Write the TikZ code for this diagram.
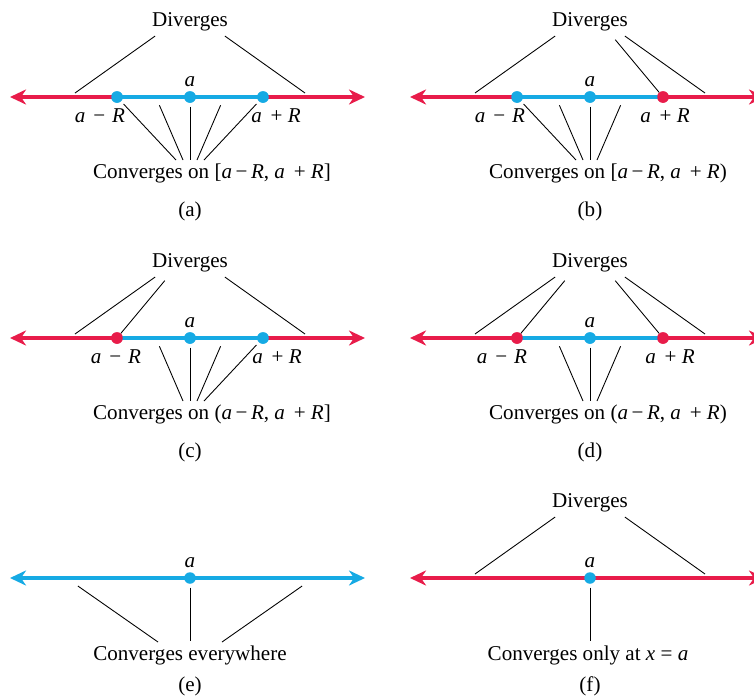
\documentclass[tikz,border=0pt]{standalone}
\usepackage{fontspec}
\setmainfont{Liberation Serif}
\usepackage{xcolor}
\usetikzlibrary{arrows.meta}

\definecolor{divred}{RGB}{232,28,74}
\definecolor{convblue}{RGB}{22,170,228}

\newcommand{\mns}{\hspace{4.5pt}−\hspace{4pt}}
\newcommand{\pls}{\hspace{5pt}+\hspace{3pt}}

\tikzset{
  axis/.style={line width=2.8pt},
  dot/.style={circle,inner sep=0pt,minimum size=0.23cm},
  lead/.style={line width=0.5pt,shorten <=2pt},
}

\begin{document}
\begin{tikzpicture}[x={(0.02cm,0cm)}, y={(0cm,-0.02cm)},
    >={Stealth[length=0.32cm,width=0.3cm,inset=0.1cm]},
    font=\fontsize{12}{14}\selectfont]
  \useasboundingbox (0,0) rectangle (754,697);

  % ---------- (a) ----------
  \begin{scope}
  % Nodes
  \node (divA) at (190,22) {Diverges};
  \node (aA) at (190,82) {\textit{a}};
  \node (amA) at (100,116) {\textit{a}\mns\textit{R}};
  \node (apA) at (276,116) {\textit{a}\pls\textit{R}};
  \node (convA) at (212,173) {Converges on [\textit{a}\,−\,\textit{R}, \textit{a}\pls\textit{R}]};
  \node (capA) at (190,211) {(a)};
  \coordinate (lA) at (10,97);
  \coordinate (rA) at (365,97);
  \node[dot,fill=convblue] (pLA) at (117,97) {};
  \node[dot,fill=convblue] (pAA) at (190,97) {};
  \node[dot,fill=convblue] (pRA) at (263,97) {};
  % Axis
  \draw[axis,divred,<-] (lA) -- (pLA.center);
  \draw[axis,convblue] (pLA.center) -- (pRA.center);
  \draw[axis,divred,->] (pRA.center) -- (rA);
  \node[dot,fill=convblue] at (pLA) {};
  \node[dot,fill=convblue] at (pAA) {};
  \node[dot,fill=convblue] at (pRA) {};
  % Edges
  \draw[lead] (158,34) -- (75,93);
  \draw[lead] (222,34) -- (305,93);
  \draw[lead] (pLA) -- (176,160);
  \draw[lead] (158,102) -- (183,160);
  \draw[lead] (pAA) -- (190,160);
  \draw[lead] (222,102) -- (197,160);
  \draw[lead] (pRA) -- (204,160);
  \end{scope}

  % ---------- (b) ----------
  \begin{scope}[shift={(400,0)}]
  % Nodes
  \node (divB) at (190,22) {Diverges};
  \node (aB) at (190,82) {\textit{a}};
  \node (amB) at (100,116) {\textit{a}\mns\textit{R}};
  \node (apB) at (265,116) {\textit{a}\pls\textit{R}};
  \node (convB) at (208,173) {Converges on [\textit{a}\,−\,\textit{R}, \textit{a}\pls\textit{R})};
  \node (capB) at (190,211) {(b)};
  \coordinate (lB) at (10,97);
  \coordinate (rB) at (365,97);
  \node[dot,fill=convblue] (pLB) at (117,97) {};
  \node[dot,fill=convblue] (pAB) at (190,97) {};
  \node[dot,fill=divred] (pRB) at (263,97) {};
  % Axis
  \draw[axis,divred,<-] (lB) -- (pLB.center);
  \draw[axis,convblue] (pLB.center) -- (pRB.center);
  \draw[axis,divred,->] (pRB.center) -- (rB);
  \node[dot,fill=convblue] at (pLB) {};
  \node[dot,fill=convblue] at (pAB) {};
  \node[dot,fill=divred] at (pRB) {};
  % Edges
  \draw[lead] (158,34) -- (75,93);
  \draw[lead] (213,37) -- (pRB);
  \draw[lead] (222,34) -- (305,93);
  \draw[lead] (pLB) -- (176,160);
  \draw[lead] (158,102) -- (183,160);
  \draw[lead] (pAB) -- (190,160);
  \draw[lead] (222,102) -- (197,160);
  \end{scope}

  % ---------- (c) ----------
  \begin{scope}[shift={(0,241)}]
  % Nodes
  \node (divC) at (190,22) {Diverges};
  \node (aC) at (190,82) {\textit{a}};
  \node (amC) at (116,116) {\textit{a}\mns\textit{R}};
  \node (apC) at (277,116) {\textit{a}\pls\textit{R}};
  \node (convC) at (212,173) {Converges on (\textit{a}\,−\,\textit{R}, \textit{a}\pls\textit{R}]};
  \node (capC) at (190,211) {(c)};
  \coordinate (lC) at (10,97);
  \coordinate (rC) at (365,97);
  \node[dot,fill=divred] (pLC) at (117,97) {};
  \node[dot,fill=convblue] (pAC) at (190,97) {};
  \node[dot,fill=convblue] (pRC) at (263,97) {};
  % Axis
  \draw[axis,divred,<-] (lC) -- (pLC.center);
  \draw[axis,convblue] (pLC.center) -- (pRC.center);
  \draw[axis,divred,->] (pRC.center) -- (rC);
  \node[dot,fill=divred] at (pLC) {};
  \node[dot,fill=convblue] at (pAC) {};
  \node[dot,fill=convblue] at (pRC) {};
  % Edges
  \draw[lead] (158,34) -- (75,93);
  \draw[lead] (167,37) -- (pLC);
  \draw[lead] (222,34) -- (305,93);
  \draw[lead] (158,102) -- (183,160);
  \draw[lead] (pAC) -- (190,160);
  \draw[lead] (222,102) -- (197,160);
  \draw[lead] (pRC) -- (204,160);
  \end{scope}

  % ---------- (d) ----------
  \begin{scope}[shift={(400,241)}]
  % Nodes
  \node (divD) at (190,22) {Diverges};
  \node (aD) at (190,82) {\textit{a}};
  \node (amD) at (102,116) {\textit{a}\mns\textit{R}};
  \node (apD) at (270,116) {\textit{a}\pls\textit{R}};
  \node (convD) at (208,173) {Converges on (\textit{a}\,−\,\textit{R}, \textit{a}\pls\textit{R})};
  \node (capD) at (190,211) {(d)};
  \coordinate (lD) at (10,97);
  \coordinate (rD) at (365,97);
  \node[dot,fill=divred] (pLD) at (117,97) {};
  \node[dot,fill=convblue] (pAD) at (190,97) {};
  \node[dot,fill=divred] (pRD) at (263,97) {};
  % Axis
  \draw[axis,divred,<-] (lD) -- (pLD.center);
  \draw[axis,convblue] (pLD.center) -- (pRD.center);
  \draw[axis,divred,->] (pRD.center) -- (rD);
  \node[dot,fill=divred] at (pLD) {};
  \node[dot,fill=convblue] at (pAD) {};
  \node[dot,fill=divred] at (pRD) {};
  % Edges
  \draw[lead] (158,34) -- (75,93);
  \draw[lead] (167,37) -- (pLD);
  \draw[lead] (213,37) -- (pRD);
  \draw[lead] (222,34) -- (305,93);
  \draw[lead] (158,102) -- (183,160);
  \draw[lead] (pAD) -- (190,160);
  \draw[lead] (222,102) -- (197,160);
  \end{scope}

  % ---------- (e) ----------
  \begin{scope}[shift={(0,481)}]
  % Nodes
  \node (aE) at (190,82) {\textit{a}};
  \node (convE) at (190,174) {Converges everywhere};
  \node (capE) at (190,205) {(e)};
  \coordinate (lE) at (10,97);
  \coordinate (rE) at (365,97);
  % Axis
  \draw[axis,convblue,<->] (lE) -- (rE);
  \node[dot,fill=convblue] (pAE) at (190,97) {};
  % Edges
  \draw[lead] (75,103) -- (158,161);
  \draw[lead] (pAE) -- (190,160);
  \draw[lead] (305,103) -- (222,161);
  \end{scope}

  % ---------- (f) ----------
  \begin{scope}[shift={(400,481)}]
  % Nodes
  \node (divF) at (190,22) {Diverges};
  \node (aF) at (190,82) {\textit{a}};
  \node (convF) at (188,174) {Converges only at \textit{x} = \textit{a}};
  \node (capF) at (190,205) {(f)};
  \coordinate (lF) at (10,97);
  \coordinate (rF) at (365,97);
  % Axis
  \draw[axis,divred,<->] (lF) -- (rF);
  \node[dot,fill=convblue] (pAF) at (190,97) {};
  % Edges
  \draw[lead] (158,34) -- (75,93);
  \draw[lead] (222,34) -- (305,93);
  \draw[lead] (pAF) -- (190,160);
  \end{scope}
\end{tikzpicture}
\end{document}
